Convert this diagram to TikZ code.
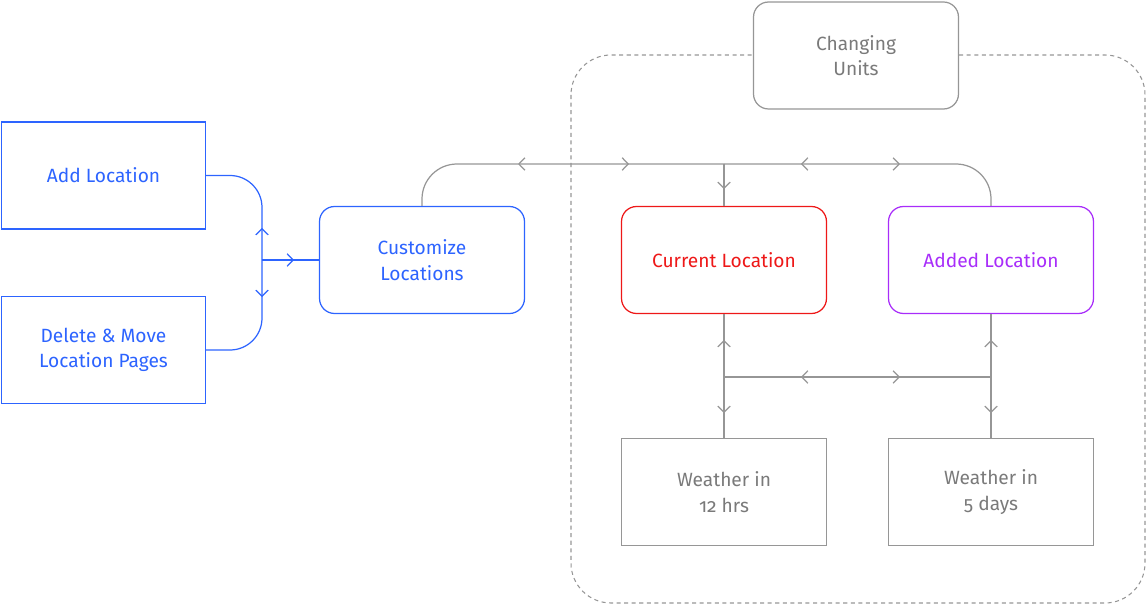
\documentclass[tikz,border=0pt]{standalone}
\usepackage{fontspec}
\setmainfont{Fira Sans}[Numbers=OldStyle]
\usepackage{xcolor}
\usetikzlibrary{arrows.meta,positioning,decorations.markings}

\definecolor{locblue}{RGB}{45,100,255}
\definecolor{locred}{RGB}{238,24,24}
\definecolor{locpurple}{RGB}{168,45,250}
\definecolor{flowgray}{RGB}{150,150,150}
\definecolor{textgray}{RGB}{122,122,122}

\tikzset{
    chev/.tip={Straight Barb[length=1.2mm,width=2.5mm]},
    screen/.style={draw, fill=white, line width=0.7pt, minimum width=4.1cm, minimum height=2.14cm,
        align=center, font=\fontsize{10.9}{14.4}\selectfont},
    roundscreen/.style={screen, rounded corners=0.3cm},
    flow/.style={draw=flowgray, line width=0.7pt},
    fwd/.style={postaction={decorate, decoration={markings, mark=at position #1 with {\arrow{chev}}}}},
    bwd/.style={postaction={decorate, decoration={markings, mark=at position #1 with {\arrowreversed{chev}}}}}
}

\begin{document}
\begin{tikzpicture}[x=0.02cm, y=-0.02cm]
    \useasboundingbox (0,0) rectangle (1146,604);
    % Settings area
    \draw[flowgray, line width=0.6pt, dash pattern=on 2.3pt off 2pt, rounded corners=0.8cm] (571,55) rectangle (1145,603);
    % Screens
    \node[screen, draw=locblue, text=locblue, minimum width=4.08cm] (add) at (103.5,175.5) {Add Location};
    \node[screen, draw=locblue, text=locblue, minimum width=4.08cm] (del) at (103.5,350) {Delete \& Move\\Location Pages};
    \node[roundscreen, draw=locblue, text=locblue] (cust) at (422,260) {Customize\\Locations};
    \node[roundscreen, draw=locred, text=locred] (cur) at (724,260) {Current Location};
    \node[roundscreen, draw=locpurple, text=locpurple] (added) at (991,260) {Added Location};
    \node[roundscreen, draw=flowgray, text=textgray] (units) at (856,55.5) {Changing\\Units};
    \node[screen, draw=flowgray, text=textgray] (hours) at (724,492) {Weather in\\12 hrs};
    \node[screen, draw=flowgray, text=textgray] (days) at (991,492) {Weather in\\5 days};
    % Junctions
    \coordinate (hub) at (262,260);
    \coordinate (bus) at (724,164);
    \coordinate (mid) at (724,377);
    \coordinate (midR) at (991,377);
    % Edges
    % Location list to customize
    \draw[locblue, line width=0.7pt, rounded corners=0.64cm, fwd=0.64cm] (hub) |- (add.east);
    \draw[locblue, line width=0.7pt, rounded corners=0.64cm, fwd=0.74cm] (hub) |- (del.east);
    \draw[locblue, line width=0.7pt, fwd=0.64cm] (hub) -- (cust.west);
    % Customize to location pages
    \draw[flow, rounded corners=0.7cm, fwd=4.12cm, bwd=1.9cm] (bus) -| (cust.north);
    \draw[flow, rounded corners=0.7cm, bwd=1.54cm, fwd=3.52cm] (bus) -| (added.north);
    \draw[flow, fwd=0.5cm] (bus) -- (cur.north);
    % Location pages to forecasts
    \draw[flow, fwd=0.74cm] (mid) -- (cur.south);
    \draw[flow, fwd=0.72cm] (mid) -- (hours.north);
    \draw[flow, fwd=0.74cm] (midR) -- (added.south);
    \draw[flow, fwd=0.72cm] (midR) -- (days.north);
    \draw[flow, bwd=1.54cm, fwd=3.52cm] (mid) -- (midR);
\end{tikzpicture}
\end{document}
